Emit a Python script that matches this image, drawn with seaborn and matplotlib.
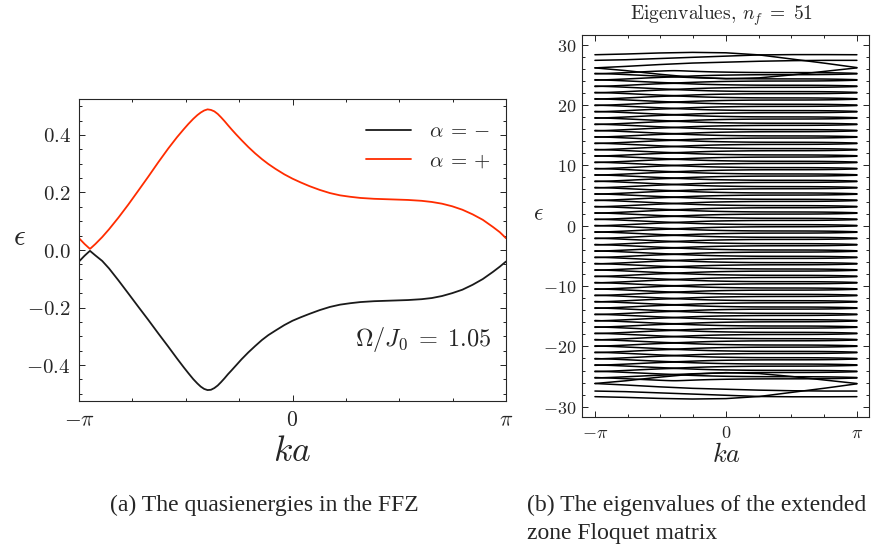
import numpy as np
import pandas as pd
import matplotlib
matplotlib.use("Agg")
import matplotlib.pyplot as plt
from matplotlib.ticker import MultipleLocator, FixedLocator, FuncFormatter
import seaborn as sns

# ---------------- data ----------------
k_vals = [-3.1416, -3.06, -3.0, -2.98, -2.96, -2.90, -2.80, -2.70, -2.56, -2.416,
          -2.27, -2.122, -1.975, -1.828, -1.70, -1.60, -1.533, -1.46, -1.40, -1.35,
          -1.30, -1.25, -1.20, -1.15, -1.10, -1.05, -1.00, -0.95, -0.895, -0.83,
          -0.75, -0.65, -0.55, -0.45, -0.356, -0.25, -0.12, 0.0, 0.12, 0.25,
          0.40, 0.55, 0.70, 0.85, 1.0, 1.2, 1.45, 1.7, 1.9, 2.05,
          2.2, 2.35, 2.5, 2.65, 2.8, 2.95, 3.05, 3.1416]
eps_plus = [0.041, 0.021, 0.008, 0.004, 0.008, 0.021, 0.045, 0.072, 0.113, 0.158,
            0.206, 0.255, 0.305, 0.353, 0.392, 0.420, 0.438, 0.456, 0.469, 0.478,
            0.485, 0.489, 0.487, 0.482, 0.473, 0.461, 0.448, 0.434, 0.419, 0.402,
            0.382, 0.358, 0.336, 0.316, 0.299, 0.282, 0.263, 0.248, 0.235, 0.222,
            0.209, 0.198, 0.190, 0.185, 0.181, 0.178, 0.176, 0.174, 0.171, 0.167,
            0.161, 0.152, 0.140, 0.124, 0.105, 0.080, 0.062, 0.041]
eps_minus = [-0.040, -0.020, -0.007, -0.003, -0.007, -0.019, -0.038, -0.064, -0.106, -0.151,
             -0.197, -0.243, -0.290, -0.336, -0.377, -0.408, -0.428, -0.449, -0.464, -0.475,
             -0.483, -0.487, -0.486, -0.480, -0.471, -0.459, -0.446, -0.432, -0.418, -0.401,
             -0.380, -0.356, -0.334, -0.313, -0.296, -0.280, -0.261, -0.246, -0.234, -0.222,
             -0.209, -0.198, -0.190, -0.185, -0.181, -0.178, -0.176, -0.174, -0.171, -0.167,
             -0.160, -0.150, -0.138, -0.121, -0.101, -0.076, -0.058, -0.040]

omega = 1.05                        # Omega / J0
n_f = 51
zone_shifts = list(range(-24, 25))  # regular Floquet replicas

# distorted outermost eigenvalues (truncation edges)
k_edge = [-3.1416, -2.4, -1.6, -0.8, 0.0, 0.8, 1.6, 2.4, 3.1416]
top_lines = [
    [28.33, 28.45, 28.62, 28.72, 28.65, 28.30, 27.60, 26.90, 26.20],
    [27.40, 27.50, 27.70, 27.90, 28.10, 28.30, 28.35, 28.35, 28.33],
    [26.15, 26.40, 26.70, 26.95, 27.10, 27.25, 27.35, 27.40, 27.40],
    [26.15, 25.70, 25.10, 24.60, 24.35, 24.50, 25.00, 25.60, 26.15],
]
bottom_lines = [
    [-28.33, -28.45, -28.62, -28.72, -28.65, -28.30, -27.60, -26.90, -26.20],
    [-27.40, -27.50, -27.70, -27.90, -28.10, -28.30, -28.35, -28.35, -28.33],
    [-26.15, -26.40, -26.70, -26.95, -27.10, -27.25, -27.35, -27.40, -27.40],
    [-26.15, -25.70, -25.10, -24.60, -24.35, -24.50, -25.00, -25.60, -26.15],
]

# ---------------- style ----------------
sns.set_theme(style="ticks")
plt.rcParams["font.family"] = ["DejaVu Serif"]
plt.rcParams["mathtext.fontset"] = "cm"
plt.rcParams["axes.linewidth"] = 0.8
plt.rcParams["xtick.direction"] = "in"
plt.rcParams["ytick.direction"] = "in"

RED = "#FF2C00"

fig = plt.figure(figsize=(8.8, 5.49), dpi=100)
W, H = 880, 549


def px_axes(l, t, r, b):
    return [l / W, 1 - b / H, (r - l) / W, (b - t) / H]


ax1 = fig.add_axes(px_axes(79, 99, 506, 401))
ax2 = fig.add_axes(px_axes(582, 35, 869, 417))

# ---------------- left panel ----------------
sns.lineplot(x=k_vals, y=eps_minus, ax=ax1, color="#1a1a1a", lw=1.3,
             label=r"$\alpha\:=\:-$", sort=False)
sns.lineplot(x=k_vals, y=eps_plus, ax=ax1, color=RED, lw=1.3,
             label=r"$\alpha\:=\:+$", sort=False)
ax1.set_xlim(-np.pi, np.pi)
ax1.set_ylim(-0.525, 0.525)
ax1.set_xlabel("")
ax1.set_ylabel("")
leg = ax1.legend(loc="upper right", frameon=False, fontsize=15, handlelength=2.2,
                 borderaxespad=0.55, handletextpad=0.85, labelspacing=0.5,
                 bbox_to_anchor=(1.0117, 0.990))
ax1.text(2.92, -0.31, r"$\Omega/J_0\;=\;1.05$", fontsize=17.5, ha="right", va="center")

# ---------------- right panel ----------------
rows = []
lid = 0
for n in zone_shifts:
    for band in (eps_minus, eps_plus):
        for kk, ee in zip(k_vals, band):
            rows.append((lid, kk, ee + n * omega))
        lid += 1
for line in top_lines + bottom_lines:
    for kk, ee in zip(k_edge, line):
        rows.append((lid, kk, ee))
    lid += 1
df = pd.DataFrame(rows, columns=["line", "k", "e"])
sns.lineplot(data=df, x="k", y="e", units="line", estimator=None, ax=ax2,
             color="black", lw=1.1, sort=False)
ax2.set_xlim(-np.pi - 0.31, np.pi + 0.29)
ax2.set_ylim(-31.7, 31.6)
ax2.set_xlabel("")
ax2.set_ylabel("")

# ---------------- ticks ----------------
pi_fmt = {-np.pi: r"$-\pi$", 0.0: r"$0$", np.pi: r"$\pi$"}
for ax, ysize, xsize in ((ax1, 15, 15.5), (ax2, 13, 13)):
    ax.xaxis.set_major_locator(FixedLocator([-np.pi, 0, np.pi]))
    ax.xaxis.set_major_formatter(FuncFormatter(
        lambda v, p: min(pi_fmt.items(), key=lambda it: abs(it[0] - v))[1]))
    ax.xaxis.set_minor_locator(MultipleLocator(np.pi / 4))
    ax.tick_params(which="both", top=True, right=True, direction="in",
                   width=0.7, color="#222222")
    ax.tick_params(which="major", length=4.5)
    ax.tick_params(which="minor", length=2.3)
    ax.tick_params(axis="x", labelsize=xsize)
    ax.tick_params(axis="y", labelsize=ysize)

ax1.yaxis.set_major_locator(MultipleLocator(0.2))
ax1.yaxis.set_minor_locator(MultipleLocator(0.05))
ax1.yaxis.set_major_formatter(FuncFormatter(lambda v, p: f"${v:.1f}$"))
ax1.tick_params(axis="x", pad=6)
ax1.tick_params(axis="y", pad=6)

ax2.yaxis.set_major_locator(MultipleLocator(10))
ax2.yaxis.set_minor_locator(MultipleLocator(2))
ax2.yaxis.set_major_formatter(FuncFormatter(lambda v, p: f"${v:.0f}$"))
ax2.tick_params(axis="x", pad=5)
ax2.tick_params(axis="y", pad=4)

# ---------------- labels ----------------
fig.text(19 / W, 1 - 237 / H, r"$\epsilon$", fontsize=21, ha="center", va="center")
fig.text(292 / W, 1 - 451 / H, r"$ka$", fontsize=25.5, ha="center", va="center")
fig.text(538 / W, 1 - 214 / H, r"$\epsilon$", fontsize=17, ha="center", va="center")
fig.text(726 / W, 1 - 455 / H, r"$ka$", fontsize=19, ha="center", va="center")
fig.text(721 / W, 1 - 16 / H, r"Eigenvalues, $n_f\;=\;51$", fontsize=14,
         ha="center", va="center", family="cmr10")

cap = dict(fontsize=17, family="Liberation Serif", va="center")
fig.text(264 / W, 1 - 505 / H, "(a) The quasienergies in the FFZ", ha="center", **cap)
fig.text(527 / W, 1 - 505 / H, "(b) The eigenvalues of the extended", ha="left", **cap)
fig.text(527 / W, 1 - 533 / H, "zone Floquet matrix", ha="left", **cap)

fig.savefig("out.png", dpi=100)
